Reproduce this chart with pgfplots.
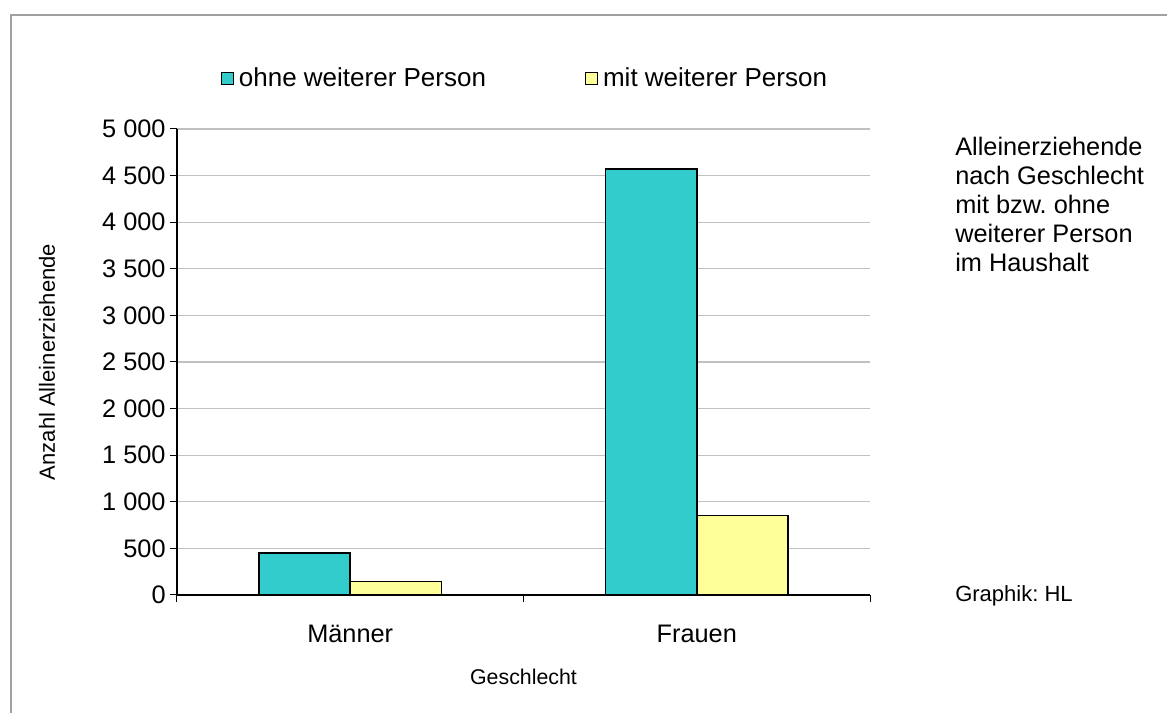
\documentclass[border=0pt]{standalone}
\usepackage{fontspec}
\setmainfont{Liberation Sans}
\usepackage{pgfplots}
\pgfplotsset{compat=1.18}
\frenchspacing
\definecolor{barcyan}{HTML}{33CCCC}
\definecolor{baryellow}{HTML}{FFFF99}
\definecolor{framegray}{HTML}{A0A0A0}
\definecolor{gridgray}{HTML}{C0C0C0}
\pgfplotsset{
  sqlegend/.style={legend image code/.code={\draw[##1, line width=0.75pt] (0pt,-4.5pt) rectangle (9pt,4.5pt);}}
}
\begin{document}
\begin{tikzpicture}
\begin{axis}[
  at={(0pt,0pt)}, anchor=south west,
  scale only axis, width=519.75pt, height=349.5pt,
  xmin=-0.5, xmax=1.5, ymin=0, ymax=5000,
  axis lines*=left,
  axis line style={black, line width=0.8pt},
  ybar, bar width=0.263,
  ytick={0,500,...,5000},
  ymajorgrids, grid style={gridgray, line width=0.8pt},
  xtick={-0.5,0.5,1.5}, xticklabels={},
  extra x ticks={0,1}, extra x tick labels={Männer,Frauen},
  extra x tick style={major tick length=0pt, grid=none,
    xticklabel style={anchor=base, yshift=-36pt, font=\fontsize{19}{22}\selectfont}},
  tick align=outside, major tick length=5pt,
  tick style={black, line width=0.75pt},
  /pgf/number format/assume math mode=true,
  /pgf/number format/1000 sep={\ },
  yticklabel style={font=\fontsize{19}{22}\selectfont},
  ylabel={Anzahl Alleinerziehende},
  ylabel style={at={(axis description cs:-0.1876,0.5)}, anchor=center, font=\fontsize{16.5}{19}\selectfont},
  xlabel={Geschlecht},
  xlabel style={at={(axis description cs:0.5,-0.176)}, anchor=center, font=\fontsize{16}{19}\selectfont},
  legend style={at={(axis description cs:0.0635,1.109)}, anchor=west, draw=none, fill=none,
    inner sep=0pt, legend columns=2, font=\fontsize{19.5}{22}\selectfont,
    /tikz/every even column/.append style={column sep=71pt},
    nodes={inner sep=3.5pt}},
]
\addplot[fill=barcyan, draw=black, line width=1.2pt, bar shift=-0.1315, sqlegend]
  coordinates {(0,450) (1,4570)};
\addplot[fill=baryellow, draw=black, line width=1.2pt, bar shift=0.1315, sqlegend]
  coordinates {(0,145) (1,855)};
\legend{ohne weiterer Person, mit weiterer Person}
\end{axis}
\begin{scope}[shift={(-132.75pt,446.25pt)}, x=0.75pt, y=-0.75pt]
  \useasboundingbox (0,0) rectangle (1167,713);
  \draw[framegray, line width=1.5pt] (11,713) -- (11,15) -- (1167,15);
  \node[anchor=north west, align=left, inner sep=0pt, font=\fontsize{19}{21.75}\selectfont]
    at (955,137) {Alleinerziehende\\nach Geschlecht\\mit bzw. ohne\\weiterer Person\\im Haushalt};
  \node[anchor=west, inner sep=0pt, font=\fontsize{16.5}{19}\selectfont] at (955,596) {Graphik: HL};
\end{scope}
\end{tikzpicture}
\end{document}
